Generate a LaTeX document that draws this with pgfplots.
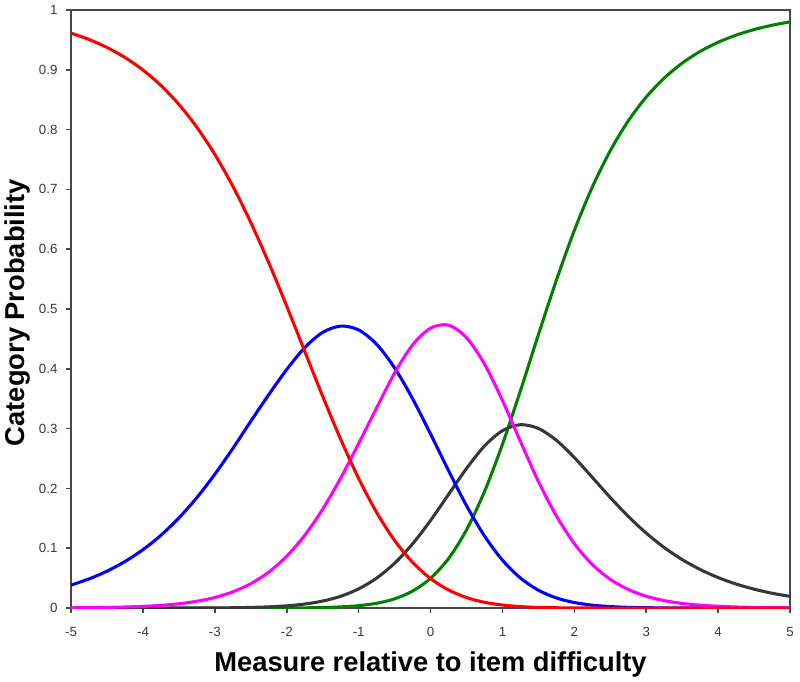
\documentclass[border=0pt]{standalone}
\usepackage{pgfplots}
\pgfplotsset{compat=1.18}
\usepackage{fontspec}
\setmainfont{Liberation Sans}
\definecolor{axisgray}{RGB}{72,72,72}
\definecolor{tickgray}{RGB}{55,55,68}
\definecolor{cred}{RGB}{255,0,0}
\definecolor{cblue}{RGB}{0,0,255}
\definecolor{cmag}{RGB}{255,0,255}
\definecolor{cdark}{RGB}{55,55,55}
\definecolor{cgreen}{RGB}{0,128,0}
\pgfplotstableread{
x p0 p1 p2 p3 p4
-5 0.9612 0.0384 0.0004 0.0000 0.0000
-4.75 0.9506 0.0488 0.0007 0.0000 0.0000
-4.5 0.9372 0.0617 0.0011 0.0000 0.0000
-4.25 0.9204 0.0779 0.0018 0.0000 0.0000
-4 0.8995 0.0977 0.0028 0.0000 0.0000
-3.75 0.8736 0.1218 0.0045 0.0000 0.0000
-3.5 0.8419 0.1508 0.0072 0.0001 0.0000
-3.25 0.8037 0.1848 0.0114 0.0001 0.0000
-3 0.7582 0.2239 0.0177 0.0003 0.0000
-2.75 0.7051 0.2670 0.0271 0.0005 0.0000
-2.5 0.6444 0.3125 0.0408 0.0011 0.0000
-2.25 0.5770 0.3570 0.0602 0.0020 0.0001
-2 0.5045 0.3990 0.0868 0.0037 0.0002
-1.75 0.4291 0.4355 0.1217 0.0067 0.0004
-1.5 0.3538 0.4610 0.1655 0.0117 0.0009
-1.25 0.2820 0.4715 0.2174 0.0197 0.0019
-1 0.2165 0.4650 0.2752 0.0321 0.0040
-0.75 0.1597 0.4410 0.3348 0.0501 0.0080
-0.5 0.1130 0.4015 0.3930 0.0750 0.0154
-0.25 0.0764 0.3500 0.4400 0.1073 0.0284
0 0.0492 0.2910 0.4680 0.1465 0.0497
0.25 0.0302 0.2298 0.4730 0.1900 0.0828
0.5 0.0175 0.1712 0.4520 0.2334 0.1307
0.75 0.0096 0.1205 0.4080 0.2709 0.1948
1 0.0050 0.0800 0.3470 0.2966 0.2738
1.25 0.0024 0.0502 0.2785 0.3066 0.3634
1.5 0.0011 0.0298 0.2116 0.3003 0.4571
1.75 0.0005 0.0169 0.1540 0.2805 0.5482
2 0.0002 0.0092 0.1076 0.2516 0.6314
2.25 0.0001 0.0048 0.0727 0.2185 0.7039
2.5 0.0000 0.0025 0.0479 0.1848 0.7647
2.75 0.0000 0.0012 0.0310 0.1533 0.8145
3 0.0000 0.0006 0.0197 0.1253 0.8544
3.25 0.0000 0.0003 0.0124 0.1012 0.8861
3.5 0.0000 0.0001 0.0077 0.0810 0.9111
3.75 0.0000 0.0001 0.0048 0.0645 0.9307
4 0.0000 0.0000 0.0030 0.0510 0.9460
4.25 0.0000 0.0000 0.0018 0.0402 0.9579
4.5 0.0000 0.0000 0.0011 0.0316 0.9672
4.75 0.0000 0.0000 0.0007 0.0248 0.9745
5 0.0000 0.0000 0.0004 0.0195 0.9801
}\probs
\begin{document}
\begin{tikzpicture}
\begin{axis}[
  scale only axis,
  width=540pt, height=449.25pt,
  xmin=-5, xmax=5, ymin=0, ymax=1,
  xtick={-5,-4,...,5},
  ytick={0,0.1,0.2,0.3,0.4,0.5,0.6,0.7,0.8,0.9,1},
  yticklabels={0,0.1,0.2,0.3,0.4,0.5,0.6,0.7,0.8,0.9,1},
  tick align=outside,
  major tick length=3.75pt,
  xtick pos=bottom, ytick pos=left,
  axis line style={axisgray, line width=1.4pt},
  every tick/.style={axisgray, line width=1.2pt},
  /pgf/number format/assume math mode=true,
  tick label style={font=\fontsize{10}{11}\selectfont, text=tickgray},
  xticklabel style={yshift=-7pt},
  yticklabel style={xshift=-3pt},
  xlabel={Measure relative to item difficulty},
  ylabel={Category Probability},
  label style={font=\fontsize{20.5}{23}\selectfont\bfseries},
  x label style={at={(axis description cs:0.5,-0.0935)}, anchor=center},
  y label style={at={(axis description cs:-0.075,0.494)}, anchor=center},
  every axis plot/.append style={line width=2.3pt, no markers, smooth, tension=0.5},
]
\addplot[cgreen] table[x=x, y=p4] {\probs};
\addplot[cdark] table[x=x, y=p3] {\probs};
\addplot[cblue] table[x=x, y=p1] {\probs};
\addplot[cmag] table[x=x, y=p2] {\probs};
\addplot[cred] table[x=x, y=p0] {\probs};
\end{axis}
\path (current axis.south west) ++(-52.5pt,-54pt) coordinate (bbA);
\path (current axis.north east) ++(7.5pt,7.5pt) coordinate (bbB);
\path (bbA) rectangle (bbB);
\end{tikzpicture}
\end{document}
